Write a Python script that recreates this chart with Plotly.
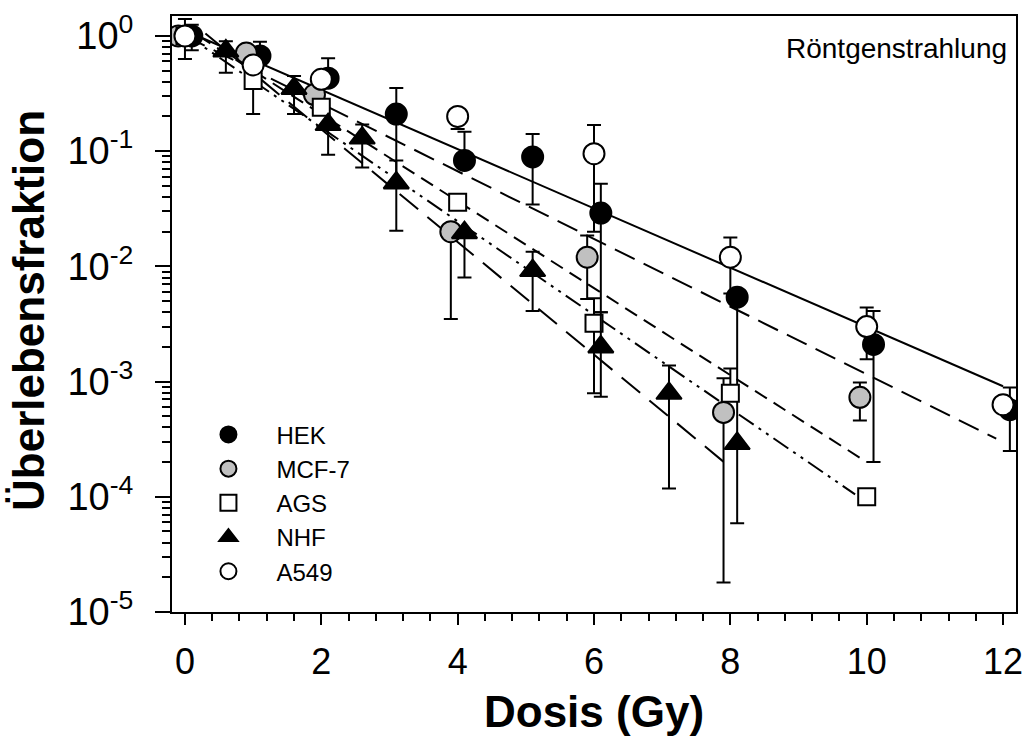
import plotly.graph_objects as go

# ---------------- data ----------------
hek_x = [0.1, 1.1, 2.1, 3.1, 4.1, 5.1, 6.1, 8.1, 10.1, 12.1]
hek_y = [1.0, 0.67, 0.43, 0.21, 0.083, 0.089, 0.029, 0.0054, 0.0021, 0.00057]
hek_hi = [1.25, 0.89, 0.64, 0.354, 0.147, 0.141, 0.052, None, 0.0041, 0.00089]
hek_lo = [0.75, None, None, 0.0204, None, 0.0345, 0.004, 0.0003, 0.0002, 0.00025]

mcf_x = [-0.1, 0.9, 1.9, 3.9, 5.9, 7.9, 9.9]
mcf_y = [1.0, 0.71, 0.31, 0.020, 0.012, 0.00054, 0.00073]
mcf_hi = [None, None, None, None, 0.0185, 0.00107, 0.00098]
mcf_lo = [None, None, None, 0.0035, 0.0052, 1.8e-5, 0.00046]

ags_x = [0.0, 1.0, 2.0, 4.0, 6.0, 8.0, 10.0]
ags_y = [1.0, 0.41, 0.24, 0.036, 0.0032, 0.00079, 0.0001]
ags_hi = [None, None, None, None, 0.0053, 0.0013, None]
ags_lo = [None, 0.21, None, None, 0.00079, None, None]

nhf_x = [0.6, 1.6, 2.1, 2.6, 3.1, 4.1, 5.1, 6.1, 7.1, 8.1]
nhf_y = [0.74, 0.35, 0.17, 0.13, 0.053, 0.0196, 0.0092, 0.0020, 0.00079, 0.00029]
nhf_hi = [0.90, 0.45, None, 0.17, 0.083, None, 0.0134, 0.0040, 0.00138, None]
nhf_lo = [0.48, 0.21, 0.093, 0.072, None, 0.0080, 0.0041, 0.00074, 0.000118, 5.9e-5]

a549_x = [0.0, 1.0, 2.0, 4.0, 6.0, 8.0, 10.0, 12.0]
a549_y = [1.0, 0.56, 0.42, 0.20, 0.095, 0.012, 0.0030, 0.00063]
a549_hi = [1.40, None, None, None, 0.169, 0.0178, 0.0044, None]
a549_lo = [0.63, None, None, 0.156, 0.02, 0.0058, 0.00156, None]

# fitted lines (end points)
fit_solid_x = [0.1, 12.0]
fit_solid_y = [1.05, 0.00091]
fit_long_x = [0.0, 11.9]
fit_long_y = [1.0, 0.00032]
fit_med_x = [0.2, 10.0]
fit_med_y = [1.0, 0.0002]
fit_dd_x = [0.0, 9.83]
fit_dd_y = [1.04, 0.000105]
fit_low_x = [0.3, 8.0]
fit_low_y = [1.05, 0.00018]

x_ticks = [0, 2, 4, 6, 8, 10, 12]
y_ticks = [1e-5, 1e-4, 1e-3, 1e-2, 1e-1, 1]
y_ticktext = ["10<sup>-5</sup>", "10<sup>-4</sup>", "10<sup>-3</sup>",
              "10<sup>-2</sup>", "10<sup>-1</sup>", "10<sup>0</sup>"]

FONT = "Liberation Sans, Arial, sans-serif"


def err_arrays(y, hi, lo):
    plus, minus = [], []
    for v, h, l in zip(y, hi, lo):
        if h is None and l is None:
            plus.append(float("nan"))
            minus.append(float("nan"))
        else:
            plus.append(h - v if h is not None else 0.0)
            minus.append(v - l if l is not None else 0.0)
    return plus, minus


fig = go.Figure()

for xs, ys, dash in [
    (fit_solid_x, fit_solid_y, "solid"),
    (fit_long_x, fit_long_y, "22px,10px"),
    (fit_med_x, fit_med_y, "14px,8px"),
    (fit_dd_x, fit_dd_y, "18px,6px,3px,6px,3px,6px"),
    (fit_low_x, fit_low_y, "24px,12px"),
]:
    fig.add_trace(go.Scatter(x=xs, y=ys, mode="lines", showlegend=False,
                             line=dict(color="black", width=2, dash=dash),
                             hoverinfo="skip"))

series = [
    ("HEK", hek_x, hek_y, hek_hi, hek_lo, "circle", "black", 21),
    ("MCF-7", mcf_x, mcf_y, mcf_hi, mcf_lo, "circle", "#c0c0c0", 21),
    ("AGS", ags_x, ags_y, ags_hi, ags_lo, "square", "white", 17),
    ("NHF", nhf_x, nhf_y, nhf_hi, nhf_lo, "triangle-up", "black", 22),
    ("A549", a549_x, a549_y, a549_hi, a549_lo, "circle", "white", 21),
]

for name, xs, ys, hi, lo, sym, col, size in series:
    plus, minus = err_arrays(ys, hi, lo)
    fig.add_trace(go.Scatter(
        x=xs, y=ys, mode="markers", name=name,
        marker=dict(symbol=sym, color=col, size=size,
                    line=dict(color="black", width=2)),
        error_y=dict(type="data", symmetric=False, array=plus, arrayminus=minus,
                     color="black", thickness=2, width=7),
    ))

fig.update_layout(
    width=1032, height=743,
    margin=dict(l=172, r=9, t=15, b=131),
    paper_bgcolor="white", plot_bgcolor="white",
    font=dict(family=FONT, color="black"),
    showlegend=True,
    legend=dict(x=0.01, y=0.335, xanchor="left", yanchor="top",
                bgcolor="rgba(0,0,0,0)", font=dict(size=24, family=FONT),
                itemwidth=86, tracegroupgap=0),
)

fig.update_xaxes(
    range=[-0.19, 12.19], tickvals=x_ticks, ticks="outside", ticklen=11,
    tickwidth=2, tickcolor="black", showline=True, linewidth=2,
    linecolor="black", mirror=True, showgrid=False, zeroline=False,
    tickfont=dict(size=36, family=FONT), ticklabelstandoff=6,
    minor=dict(dtick=0.4, tick0=0, ticks="outside", ticklen=7, tickwidth=2,
               tickcolor="black", showgrid=False),
)
fig.update_yaxes(
    type="log", range=[-5, 0.173], tickvals=y_ticks, ticktext=y_ticktext,
    ticks="outside", ticklen=15, tickwidth=2, tickcolor="black",
    showline=True, linewidth=2, linecolor="black", mirror=True,
    showgrid=False, zeroline=False,
    tickfont=dict(size=38, family=FONT), ticklabelstandoff=14,
    minor=dict(ticks="outside", ticklen=8, tickwidth=2, tickcolor="black",
               dtick="D1", showgrid=False),
)

fig.add_annotation(text="<b>Dosis (Gy)</b>", xref="paper", yref="paper",
                   x=0.5, y=-0.1675, xanchor="center", yanchor="middle",
                   showarrow=False, font=dict(size=44, family=FONT))
fig.add_annotation(text="<b>Überlebensfraktion</b>", xref="paper", yref="paper",
                   x=-0.170, y=0.506, xanchor="center", yanchor="middle",
                   textangle=-90, showarrow=False,
                   font=dict(size=44, family=FONT))
fig.add_annotation(text="Röntgenstrahlung", xref="paper", yref="paper",
                   x=0.992, y=0.946, xanchor="right", yanchor="middle",
                   showarrow=False, font=dict(size=28, family=FONT))

fig.write_html("out.html")
